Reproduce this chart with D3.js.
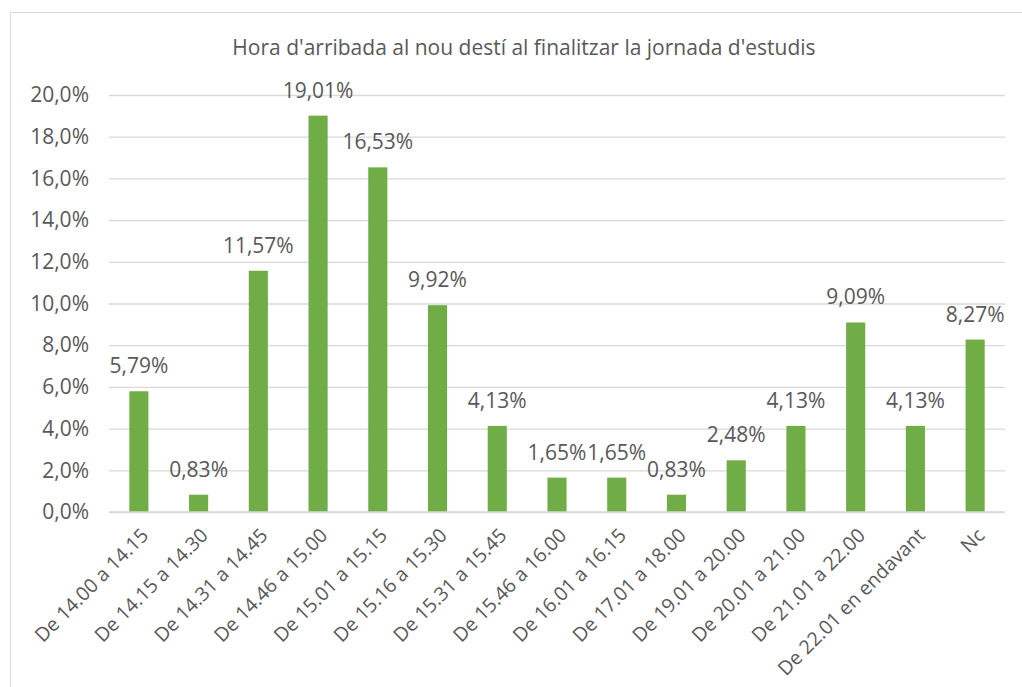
<!DOCTYPE html>
<html>
<head>
<meta charset="utf-8">
<script src="https://cdn.jsdelivr.net/npm/d3@7"></script>
<style>
  body { margin: 0; background: #fff; }
  text { font-family: "Open Sans", sans-serif; fill: #595959; }
</style>
</head>
<body>
<div id="plot"></div>
<script>
// chart data
var categories = ["De 14.00 a 14.15", "De 14.15 a 14.30", "De 14.31 a 14.45", "De 14.46 a 15.00",
  "De 15.01 a 15.15", "De 15.16 a 15.30", "De 15.31 a 15.45", "De 15.46 a 16.00",
  "De 16.01 a 16.15", "De 17.01 a 18.00", "De 19.01 a 20.00", "De 20.01 a 21.00",
  "De 21.01 a 22.00", "De 22.01 en endavant", "Nc"];
var values = [5.79, 0.83, 11.57, 19.01, 16.53, 9.92, 4.13, 1.65, 1.65, 0.83, 2.48, 4.13, 9.09, 4.13, 8.27];
var yTicks = [0, 2, 4, 6, 8, 10, 12, 14, 16, 18, 20];
var title = "Hora d'arribada al nou destí al finalitzar la jornada d'estudis";

var svgWidth = 1022;
var svgHeight = 687;

var margin = { top: 95, right: 17, bottom: 175, left: 109 };
var width = svgWidth - margin.left - margin.right;
var height = svgHeight - margin.top - margin.bottom;

var fmt = function (v, d) { return v.toFixed(d).replace(".", ",") + "%"; };

var svg = d3.select("#plot")
  .append("svg")
  .attr("width", svgWidth)
  .attr("height", svgHeight);

// chart frame
svg.append("rect")
  .attr("x", 10.5).attr("y", 12.5)
  .attr("width", 1100).attr("height", 800)
  .attr("fill", "none")
  .attr("stroke", "#d9d9d9");

svg.append("text")
  .attr("x", 524).attr("y", 55)
  .attr("text-anchor", "middle")
  .attr("font-size", "21px")
  .text(title);

var chartGroup = svg.append("g")
  .attr("transform", `translate(${margin.left}, ${margin.top})`);

var x = d3.scaleBand()
  .domain(categories)
  .range([0, width])
  .paddingInner(0.68)
  .paddingOuter(0.34);

var y = d3.scaleLinear()
  .domain([0, 20])
  .range([height, 0]);

// gridlines + y labels
var leftAxis = d3.axisLeft(y)
  .tickValues(yTicks)
  .tickSize(-width)
  .tickPadding(20)
  .tickFormat(d => fmt(d, 1));

var yAxis = chartGroup.append("g").call(leftAxis);
yAxis.select(".domain").remove();
yAxis.selectAll("line").attr("stroke", "#d9d9d9").attr("stroke-width", 1.3);
yAxis.selectAll("text").attr("font-size", "21px").attr("fill", "#595959")
  .style("font-family", "'Open Sans', sans-serif");

// bars
chartGroup.selectAll("rect.bar")
  .data(values)
  .enter()
  .append("rect")
  .attr("class", "bar")
  .attr("x", (d, i) => x(categories[i]))
  .attr("y", d => y(d))
  .attr("width", x.bandwidth())
  .attr("height", d => height - y(d))
  .attr("fill", "#70ad47");

// value labels
chartGroup.selectAll("text.val")
  .data(values)
  .enter()
  .append("text")
  .attr("class", "val")
  .attr("x", (d, i) => x(categories[i]) + x.bandwidth() / 2)
  .attr("y", d => y(d) - 18)
  .attr("text-anchor", "middle")
  .attr("font-size", "21px")
  .text(d => fmt(d, 2));

// x axis line
chartGroup.append("line")
  .attr("x1", 0).attr("x2", width)
  .attr("y1", height).attr("y2", height)
  .attr("stroke", "#d9d9d9").attr("stroke-width", 1.3);

// rotated category labels
chartGroup.selectAll("text.cat")
  .data(categories)
  .enter()
  .append("text")
  .attr("class", "cat")
  .attr("transform", d => `translate(${x(d) + x.bandwidth() / 2 + 1}, ${height + 15}) rotate(-45)`)
  .attr("text-anchor", "end")
  .attr("dy", "0.7em")
  .attr("font-size", "19.5px")
  .text(d => d);
</script>
</body>
</html>
